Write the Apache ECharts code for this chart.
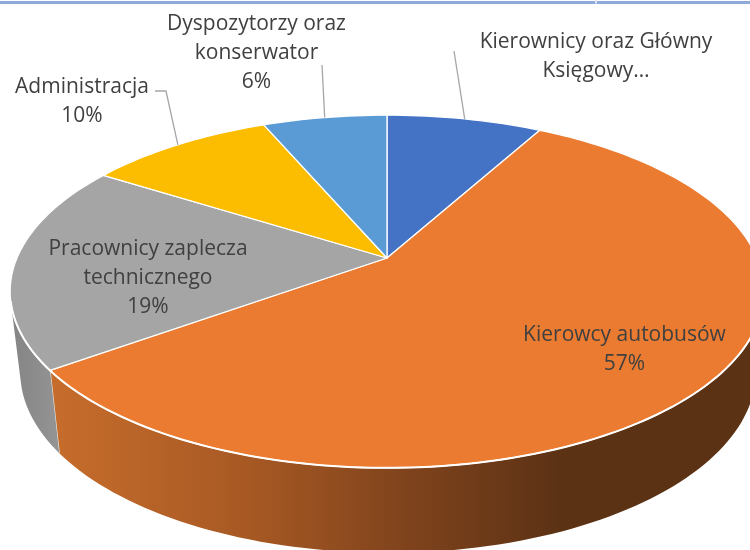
<!DOCTYPE html>
<html lang="en">

<head>
    <title>Struktura zatrudnienia</title>
    <meta charset="UTF-8">
    <style type="text/css">
        html,
        body {
            margin: 0px;
            background: #fff;
        }
    </style>
    <script type="text/javascript" src="https://cdn.jsdelivr.net/npm/echarts@6/dist/echarts.min.js"></script>
</head>

<body>
    <div id="chart" style="width: 750px; height: 550px"></div>
</body>

<script type="text/javascript">
    var categories = ['Kierownicy oraz Główny\nKsięgowy…', 'Kierowcy autobusów', 'Pracownicy zaplecza\ntechnicznego', 'Administracja', 'Dyspozytorzy oraz\nkonserwator'];
    var values = [8, 57, 19, 9.6, 6.4];
    var percentLabels = ['', '57%', '19%', '10%', '6%'];
    var colors = ['#4472c4', '#eb7b30', '#a5a5a5', '#fcbc00', '#5b9bd5'];

    // perspective of the pie: top face and bottom face
    var topFace = { cx: 387, cy: 258, r: 370, k: 170, p: 0.19 };
    var bottomFace = { cx: 388, cy: 338, r: 361, k: 174, p: 0.19 };

    // only this part of the wall faces the viewer (degrees clockwise from top)
    var wallFrom = 100;
    var wallTo = 256;

    // where the label text goes, and where its leader line starts
    var labelCenters = [[596, 57], [624.5, 350], [148, 278], [82, 101.5], [256.5, 53.5]];
    var leaderStarts = [[[454, 51]], null, null, [[155, 91], [166, 91]], [[322, 65]]];

    var sideFills = [
        null,
        {
            type: 'linear', x: 50, y: 0, x2: 560, y2: 0, global: true,
            colorStops: [
                { offset: 0, color: '#c76d2c' },
                { offset: 0.4, color: '#a65823' },
                { offset: 0.7, color: '#7f431c' },
                { offset: 1, color: '#5c3215' }
            ]
        },
        {
            type: 'linear', x: 14, y: 0, x2: 58, y2: 0, global: true,
            colorStops: [
                { offset: 0, color: '#858585' },
                { offset: 1, color: '#949494' }
            ]
        },
        null,
        null
    ];

    var total = values.reduce(function (a, b) { return a + b; }, 0);

    function project(face, deg) {
        var rad = deg * Math.PI / 180;
        var u = Math.sin(rad);
        var v = Math.cos(rad);
        var den = 1 + face.p * v;
        return [face.cx + face.r * u / den, face.cy - face.k * v / den];
    }

    function sliceRange(i) {
        var start = 0;
        for (var j = 0; j < i; j++) {
            start += values[j];
        }
        return [start / total * 360, (start + values[i]) / total * 360];
    }

    function arc(face, a, b) {
        var pts = [];
        var n = Math.max(2, Math.ceil((b - a) / 1.5));
        for (var s = 0; s <= n; s++) {
            pts.push(project(face, a + (b - a) * s / n));
        }
        return pts;
    }

    function renderSide(params) {
        var i = params.dataIndex;
        var range = sliceRange(i);
        var a = Math.max(range[0], wallFrom);
        var b = Math.min(range[1], wallTo);
        if (b <= a) {
            return null;
        }
        var upper = arc(topFace, a, b);
        var lower = arc(bottomFace, a, b).reverse();
        var children = [{
            type: 'polygon',
            shape: { points: upper.concat(lower) },
            style: { fill: sideFills[i], stroke: null }
        }];
        // light seam where this slice's wall ends
        if (range[1] <= wallTo) {
            children.push({
                type: 'line',
                shape: {
                    x1: upper[upper.length - 1][0], y1: upper[upper.length - 1][1],
                    x2: lower[0][0], y2: lower[0][1]
                },
                style: { stroke: '#e8e8e8', lineWidth: 1.2 }
            });
        }
        return { type: 'group', children: children };
    }

    function renderTop(params) {
        var i = params.dataIndex;
        var range = sliceRange(i);
        var pts = [[topFace.cx, topFace.cy]].concat(arc(topFace, range[0], range[1]));
        return {
            type: 'polygon',
            shape: { points: pts },
            style: { fill: colors[i], stroke: '#fff', lineWidth: 1.3, lineJoin: 'round' }
        };
    }

    function renderLabel(params) {
        var i = params.dataIndex;
        var range = sliceRange(i);
        var children = [];
        // brighter rim along the front edge of the top face
        var a = Math.max(range[0], wallFrom);
        var b = Math.min(range[1], wallTo);
        if (b > a) {
            children.push({
                type: 'polyline',
                shape: { points: arc(topFace, a, b) },
                style: { fill: null, stroke: '#fff', lineWidth: 2 }
            });
        }
        if (leaderStarts[i]) {
            children.push({
                type: 'polyline',
                shape: { points: leaderStarts[i].concat([project(topFace, (range[0] + range[1]) / 2)]) },
                style: { fill: null, stroke: '#a6a6a6', lineWidth: 1.3 }
            });
        }
        var text = categories[i];
        if (percentLabels[i]) {
            text += '\n' + percentLabels[i];
        }
        children.push({
            type: 'text',
            x: labelCenters[i][0],
            y: labelCenters[i][1],
            style: {
                text: text,
                fill: '#404040',
                font: '21px "Open Sans"',
                lineHeight: 29,
                align: 'center',
                verticalAlign: 'middle'
            }
        });
        return { type: 'group', children: children };
    }

    var chart = echarts.init(document.getElementById('chart'));
    chart.setOption({
        animation: false,
        backgroundColor: '#fff',
        graphic: [
            { type: 'rect', shape: { x: 0, y: 1, width: 750, height: 3 }, style: { fill: '#8eaadb' }, z: 10 },
            { type: 'rect', shape: { x: 595, y: 0, width: 2, height: 3.5 }, style: { fill: '#dfe7f5' }, z: 11 }
        ],
        series: [
            { type: 'custom', coordinateSystem: 'none', renderItem: renderSide, data: values, z: 1, silent: true },
            { type: 'custom', coordinateSystem: 'none', renderItem: renderTop, data: values, z: 2, silent: true },
            { type: 'custom', coordinateSystem: 'none', renderItem: renderLabel, data: values, z: 3, silent: true }
        ]
    });
</script>

</html>
